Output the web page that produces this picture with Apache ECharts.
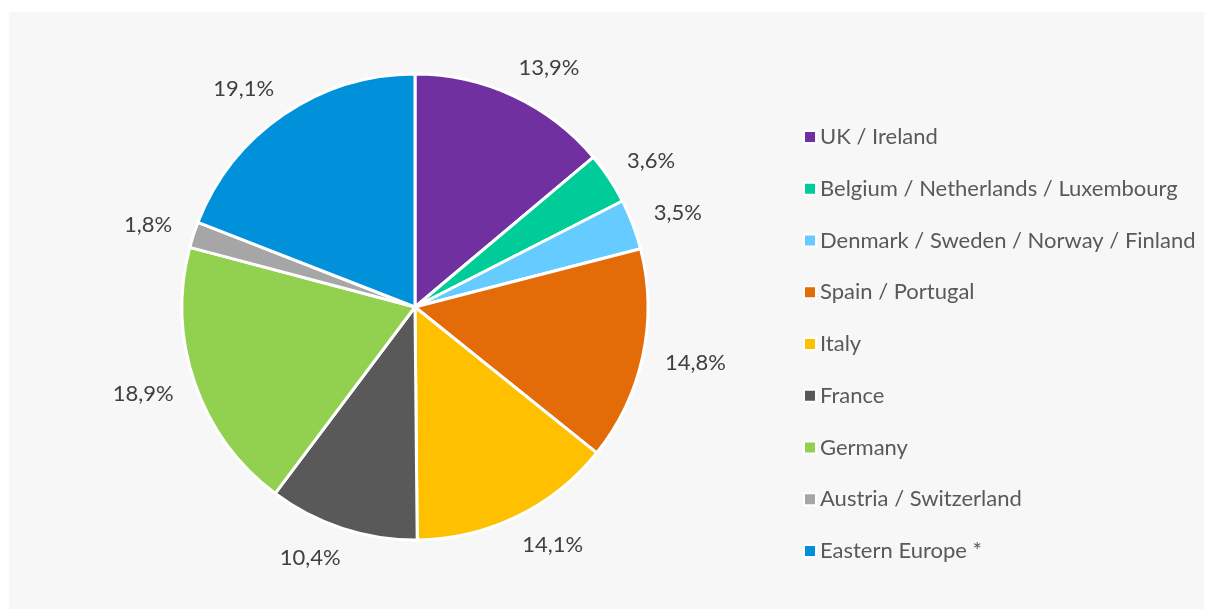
<!DOCTYPE html>
<html>
<head>
<meta charset="utf-8">
<script src="https://cdn.jsdelivr.net/npm/echarts@6/dist/echarts.min.js"></script>
<style>
    html, body { margin: 0; padding: 0; background: #ffffff; }
    .panel { position: absolute; left: 9px; top: 12px; width: 1195px; height: 597px; background: #f7f7f7; }
    #chart { position: absolute; left: 0; top: 0; width: 1205px; height: 610px; }
</style>
</head>
<body>
<div class="panel"></div>
<div id="chart"></div>
<script>
    // region shares, in percent
    const regions = ['UK / Ireland', 'Belgium / Netherlands / Luxembourg', 'Denmark / Sweden / Norway / Finland',
        'Spain / Portugal', 'Italy', 'France', 'Germany', 'Austria / Switzerland', 'Eastern Europe *']
    const shares = [13.9, 3.6, 3.5, 14.8, 14.1, 10.4, 18.9, 1.8, 19.1]
    const colors = ['#7030a0', '#00cc99', '#66ccff', '#e36c09', '#ffc000', '#595959', '#92d050', '#a6a6a6', '#0091da']

    const font = 'Lato, "Open Sans", sans-serif'
    const chart = echarts.init(document.getElementById('chart'))
    chart.setOption({
        backgroundColor: 'transparent',
        color: colors,
        animation: false,
        legend: {
            orient: 'vertical',
            left: 798,
            top: 121,
            itemWidth: 12,
            itemHeight: 12,
            itemGap: 29.75,
            icon: 'rect',
            textStyle: { fontFamily: font, fontSize: 22, color: '#595959', padding: [0, 0, 0, -1] },
            data: regions
        },
        series: [{
            type: 'pie',
            center: [415, 307],
            radius: 233,
            startAngle: 90,
            clockwise: true,
            itemStyle: { borderColor: '#ffffff', borderWidth: 3 },
            label: {
                show: true,
                position: 'outside',
                fontFamily: font,
                fontSize: 22,
                color: '#404040',
                distanceToLabelLine: -8,
                formatter: p => p.value.toFixed(1).replace('.', ',') + '%'
            },
            labelLine: { show: false, length: 31, length2: 0 },
            emphasis: { disabled: true },
            data: regions.map((name, i) => ({ name, value: shares[i] }))
        }]
    })
</script>
</body>
</html>
